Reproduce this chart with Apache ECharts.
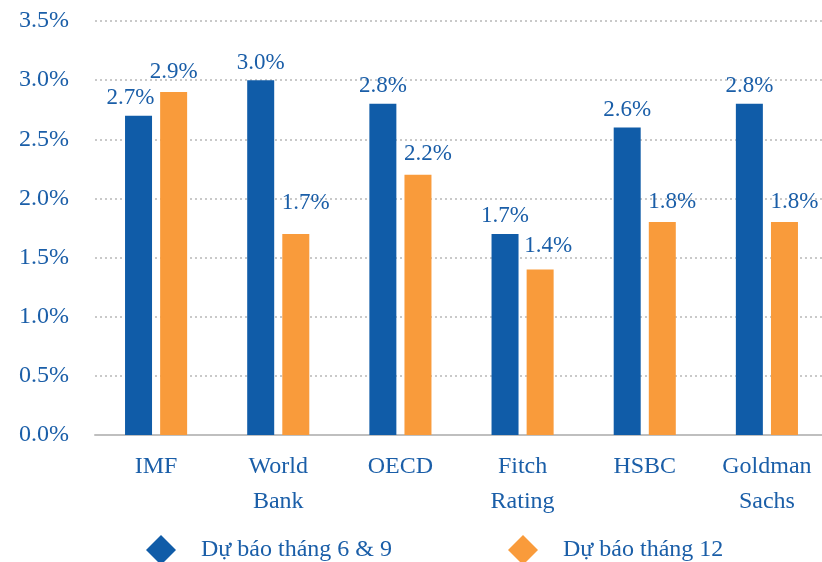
<!DOCTYPE html>
<html lang="vi">
<head>
<meta charset="UTF-8">
<title>Dự báo tăng trưởng</title>
<script src="https://cdn.jsdelivr.net/npm/echarts@6/dist/echarts.min.js"></script>
<style>
  html, body { margin: 0; padding: 0; background: #fff; }
  #container { width: 822px; height: 562px; }
</style>
</head>
<body>
<div id="container"></div>
<script>
// data
const categories = ['IMF', 'World\nBank', 'OECD', 'Fitch\nRating', 'HSBC', 'Goldman\nSachs'];
const seriesNames = ['Dự báo tháng 6 & 9', 'Dự báo tháng 12'];
const forecastJunSep = [2.7, 3.0, 2.8, 1.7, 2.6, 2.8];
const forecastDec = [2.9, 1.7, 2.2, 1.4, 1.8, 1.8];

const textBlue = '#1a5ea8';
const font = '"Liberation Serif", "Times New Roman", serif';

// label placement tweaks, as the labels sit in the original (style only)
const blueLabelShift = { 0: [-8, 0] };
const orangeLabelShift = { 0: [0, 0], 1: [10, -10], 3: [8, -3] };
const orangeDefaultShift = [10, 0];

const chart = echarts.init(document.getElementById('container'), null, { renderer: 'canvas' });

const labelBase = {
  show: true,
  position: 'top',
  color: textBlue,
  fontFamily: font,
  fontSize: 23,
  formatter: p => p.value.toFixed(1) + '%'
};

const withShift = (values, shifts, fallback) =>
  values.map((v, i) => {
    const off = shifts[i] || fallback;
    return off ? { value: v, label: { offset: off } } : v;
  });

chart.setOption({
  animation: false,
  textStyle: { fontFamily: font },
  grid: { left: 95, top: 21, width: 733, height: 414, outerBoundsMode: 'none', containLabel: false },
  legend: {
    data: seriesNames.map(n => ({ name: n, icon: 'diamond' })),
    left: 141,
    top: 530,
    itemWidth: 30,
    itemHeight: 30,
    itemGap: 116,
    textStyle: { color: textBlue, fontFamily: font, fontSize: 24, padding: [0, 0, 0, 20] }
  },
  xAxis: {
    type: 'category',
    data: categories,
    axisLine: { lineStyle: { color: '#bfbfbf', width: 2 } },
    axisTick: { show: false },
    axisLabel: {
      color: textBlue,
      fontFamily: font,
      fontSize: 24,
      lineHeight: 35,
      margin: 14
    }
  },
  yAxis: {
    type: 'value',
    min: 0,
    max: 3.5,
    interval: 0.5,
    axisLine: { show: false },
    axisTick: { show: false },
    splitLine: { lineStyle: { color: '#b8b8b8', type: [2, 3], width: 1.5 } },
    axisLabel: {
      color: textBlue,
      fontFamily: font,
      fontSize: 24,
      margin: 26,
      formatter: v => v.toFixed(1) + '%'
    }
  },
  series: [
    {
      name: seriesNames[0],
      type: 'bar',
      data: withShift(forecastJunSep, blueLabelShift, null),
      barWidth: 27,
      barGap: '30%',
      itemStyle: { color: '#105ca8' },
      label: Object.assign({ distance: 6 }, labelBase)
    },
    {
      name: seriesNames[1],
      type: 'bar',
      data: withShift(forecastDec, orangeLabelShift, orangeDefaultShift),
      barWidth: 27,
      itemStyle: { color: '#f99b3b' },
      label: Object.assign({ distance: 9 }, labelBase)
    }
  ]
});
</script>
</body>
</html>
